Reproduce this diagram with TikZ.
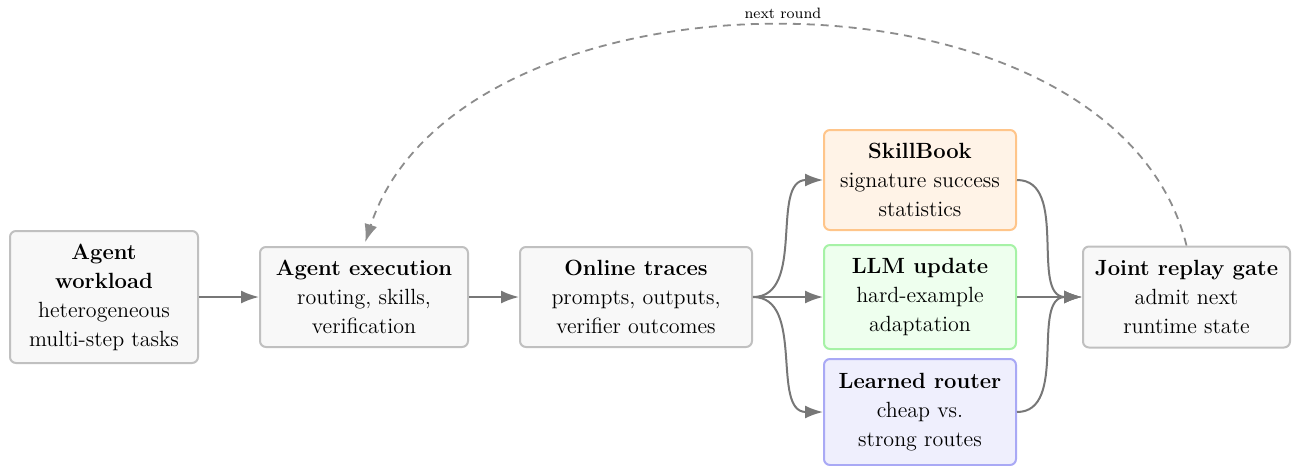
\documentclass[tikz,border=0pt]{standalone}
\usetikzlibrary{arrows.meta}
\definecolor{boxfill}{HTML}{F8F8F8}
\definecolor{boxline}{HTML}{C0C0C0}
\definecolor{skillfill}{HTML}{FFF3E7}
\definecolor{skillline}{HTML}{FFC58A}
\definecolor{llmfill}{HTML}{EEFFEE}
\definecolor{llmline}{HTML}{A6F2A6}
\definecolor{routerfill}{HTML}{EFEFFD}
\definecolor{routerline}{HTML}{A9A9F5}
\definecolor{arrowgray}{HTML}{777777}
\definecolor{loopgray}{HTML}{8C8C8C}
\begin{document}
\begin{tikzpicture}[x=0.5pt,y=-0.5pt,
  box/.style={draw=boxline, fill=boxfill, line width=1pt, rounded corners=3pt,
    align=center, inner sep=0pt, font=\fontsize{11}{14.5}\selectfont},
  flow/.style={draw=arrowgray, line width=1pt, -{Latex[length=9pt,width=6.5pt]}},
  loop/.style={draw=loopgray, line width=0.9pt, dash pattern=on 4pt off 3pt,
    -{Latex[length=9pt,width=6.5pt]}}]
\useasboundingbox (0,0) rectangle (1292,466);

% pipeline stages
\node[box, minimum width=94pt, minimum height=66pt] (work) at (104,297)
  {\textbf{Agent}\\\textbf{workload}\\heterogeneous\\multi-step tasks};
\node[box, minimum width=104pt, minimum height=50pt] (exec) at (364,297)
  {\textbf{Agent execution}\\routing, skills,\\verification};
\node[box, minimum width=116pt, minimum height=50pt] (trace) at (636,297)
  {\textbf{Online traces}\\prompts, outputs,\\verifier outcomes};

% parallel updates
\node[box, draw=skillline, fill=skillfill, minimum width=96pt, minimum height=50pt] (skill) at (920,180)
  {\textbf{SkillBook}\\signature success\\statistics};
\node[box, draw=llmline, fill=llmfill, minimum width=96pt, minimum height=52pt] (llm) at (920,297)
  {\textbf{LLM update}\\hard-example\\adaptation};
\node[box, draw=routerline, fill=routerfill, minimum width=96pt, minimum height=53pt] (router) at (920,412)
  {\textbf{Learned router}\\cheap vs.\\strong routes};

% gate
\node[box, minimum width=103.5pt, minimum height=50.5pt] (gate) at (1186.5,297)
  {\textbf{Joint replay gate}\\admit next\\runtime state};

% connectors
\draw[flow] (work) -- (exec);
\draw[flow] (exec) -- (trace);
\draw[flow] (trace.east) to[out=0,in=180] (skill.west);
\draw[flow] (trace.east) -- (llm.west);
\draw[flow] (trace.east) to[out=0,in=180] (router.west);
\draw[flow] (skill.east) to[out=0,in=180] (gate.west);
\draw[flow] (llm.east) -- (gate.west);
\draw[flow] (router.east) to[out=0,in=180] (gate.west);

% feedback loop
\draw[loop, shorten >=2pt] (gate.north) to[out=104,in=72,looseness=0.95]
  node[pos=0.5, above=0pt, font=\fontsize{7.5}{9}\selectfont, text=black] (lbl) {next round}
  (exec.north);
\end{tikzpicture}
\end{document}
